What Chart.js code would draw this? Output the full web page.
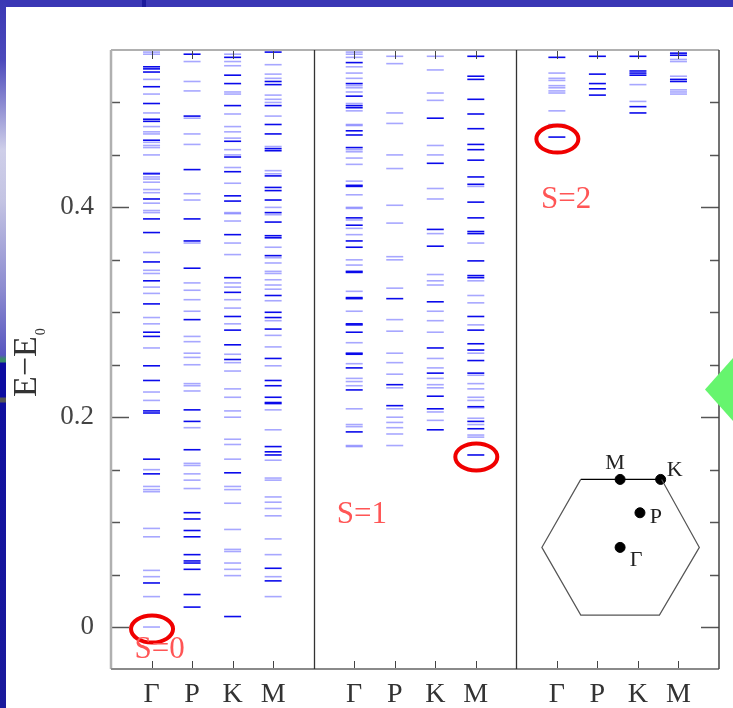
<!DOCTYPE html>
<html><head><meta charset="utf-8">
<script src="https://cdn.jsdelivr.net/npm/chart.js@4.4.1/dist/chart.umd.min.js"></script>
<style>
html,body{margin:0;padding:0;background:#fff;width:733px;height:708px;overflow:hidden;position:relative}
#wrap{position:absolute;left:0;top:0;width:733px;height:708px}
.deco{position:absolute;z-index:2}
</style></head><body>
<div id="wrap"><canvas id="c" width="733" height="708"></canvas></div>
<div class="deco" style="left:0;top:0;width:733px;height:7px;background:#3a37b5"></div>
<div class="deco" style="left:142px;top:0;width:4px;height:7px;background:#1c1a9c"></div>
<div class="deco" style="left:0;top:0;width:6px;height:708px;background:linear-gradient(to bottom,#3a38b4 0px,#4c4abb 60px,#cfcfe9 150px,#c4c4e3 200px,#8c8bd0 290px,#5856c0 355px,#3b8a6b 359px,#3b8a6b 362px,#0c0ca0 363px,#0c0ca0 397px,#555 398px,#555 402px,#10109e 403px,#1a1a9c 708px)"></div>
<div class="deco" style="left:705px;top:358px;width:28px;height:63px;background:#66f56e;clip-path:polygon(0 50%,100% 0,100% 100%)"></div>
<script>
// ---------- data ----------
const panels = ['S=0', 'S=1', 'S=2'];
const colLabels = ['Γ', 'P', 'K', 'M'];
const yLabelValues = [0, 0.2, 0.4];

// S = 0
const s0_G_dark  = [0.534,0.532,0.529,0.515,0.499,0.484,0.482,0.464,0.432,0.408,0.389,0.376,0.348,0.330,0.308,0.281,0.277,0.249,0.235,0.206,0.204,0.160,0.146,0.042];
const s0_G_light = [0.548,0.546,0.522,0.508,0.490,0.477,0.472,0.470,0.462,0.459,0.457,0.450,0.433,0.429,0.427,0.424,0.417,0.414,0.404,0.397,0.395,0.357,0.340,0.337,0.324,0.318,0.295,0.289,0.266,0.224,0.216,0.150,0.134,0.131,0.129,0.094,0.086,0.054,0.048,0.029,0.000];
const s0_P_dark  = [0.546,0.487,0.436,0.389,0.368,0.342,0.293,0.207,0.196,0.169,0.109,0.103,0.092,0.086,0.069,0.063,0.061,0.055,0.031,0.019];
const s0_P_light = [0.539,0.520,0.511,0.485,0.470,0.460,0.413,0.407,0.366,0.328,0.321,0.312,0.301,0.277,0.272,0.261,0.257,0.250,0.232,0.230,0.225,0.190,0.156,0.154,0.146,0.140,0.132];
const s0_K_dark  = [0.543,0.526,0.518,0.497,0.463,0.448,0.434,0.411,0.406,0.374,0.333,0.319,0.296,0.283,0.269,0.255,0.147,0.010];
const s0_K_light = [0.546,0.539,0.535,0.510,0.508,0.489,0.477,0.472,0.466,0.455,0.450,0.438,0.423,0.395,0.394,0.387,0.366,0.355,0.328,0.324,0.312,0.304,0.289,0.260,0.252,0.244,0.227,0.219,0.206,0.200,0.179,0.174,0.160,0.134,0.131,0.118,0.093,0.074,0.072,0.061,0.055,0.049];
const s0_M_dark  = [0.548,0.520,0.517,0.497,0.479,0.470,0.456,0.454,0.430,0.419,0.416,0.407,0.395,0.386,0.373,0.371,0.354,0.316,0.300,0.295,0.284,0.256,0.235,0.230,0.219,0.214,0.213,0.172,0.167,0.164,0.056,0.044];
const s0_M_light = [0.536,0.527,0.523,0.507,0.503,0.500,0.487,0.458,0.435,0.432,0.400,0.393,0.362,0.352,0.347,0.339,0.337,0.331,0.326,0.322,0.311,0.292,0.278,0.267,0.249,0.207,0.188,0.159,0.142,0.140,0.124,0.119,0.113,0.106,0.084,0.069,0.048,0.029];
// S = 1
const s1_G_dark  = [0.538,0.518,0.506,0.497,0.495,0.473,0.469,0.457,0.421,0.420,0.390,0.383,0.368,0.362,0.339,0.338,0.314,0.313,0.289,0.288,0.281,0.261,0.260,0.247,0.226,0.186];
const s1_G_light = [0.548,0.546,0.543,0.534,0.528,0.523,0.516,0.514,0.510,0.499,0.492,0.479,0.478,0.455,0.453,0.447,0.441,0.425,0.412,0.400,0.399,0.388,0.380,0.374,0.350,0.345,0.320,0.301,0.271,0.251,0.237,0.234,0.230,0.208,0.193,0.191,0.173,0.172];
const s1_P_dark  = [0.313,0.231,0.211];
const s1_P_light = [0.544,0.537,0.490,0.480,0.450,0.437,0.402,0.385,0.353,0.350,0.323,0.293,0.282,0.261,0.252,0.241,0.228,0.208,0.200,0.195,0.190,0.184,0.173];
const s1_K_dark  = [0.485,0.442,0.379,0.363,0.310,0.266,0.242,0.220,0.208,0.188];
const s1_K_light = [0.544,0.531,0.509,0.502,0.459,0.450,0.418,0.408,0.375,0.336,0.330,0.326,0.301,0.292,0.281,0.256,0.247,0.237,0.231,0.228,0.205,0.197];
const s1_M_dark  = [0.544,0.525,0.522,0.503,0.489,0.475,0.460,0.455,0.445,0.429,0.422,0.405,0.390,0.377,0.375,0.349,0.335,0.333,0.296,0.283,0.270,0.264,0.254,0.242,0.210,0.196,0.189,0.164];
const s1_M_light = [0.420,0.366,0.330,0.316,0.309,0.288,0.261,0.240,0.232,0.227,0.219,0.216,0.209,0.199,0.193,0.183,0.181];
// S = 2
const s2_G_dark  = [0.543,0.467];
const s2_G_light = [0.528,0.523,0.521,0.516,0.514,0.511,0.509,0.492,0.479];
const s2_P_dark  = [0.544,0.527,0.518,0.513,0.507];
const s2_P_light = [];
const s2_K_dark  = [0.544,0.530,0.528,0.526,0.496,0.490];
const s2_K_light = [0.517,0.501];
const s2_M_dark  = [0.547,0.545,0.522,0.520];
const s2_M_light = [0.541,0.539,0.525,0.512,0.510,0.508];

// circled lowest levels: [panel, column, value]
const highlighted = [[0, 0, 0.000], [1, 3, 0.164], [2, 0, 0.467]];

// Brillouin-zone inset (hexagon + labelled points), in data units
const bzHexX = [11.59, 13.585, 14.515, 13.53, 11.59, 10.63, 11.59];
const bzHexY = [0.1407, 0.1407, 0.0759, 0.0114, 0.0114, 0.0759, 0.1407];
const bzPointLabels = ['M', 'K', 'P', 'Γ'];
const bzPointX = [12.56, 13.56, 13.05, 12.56];
const bzPointY = [0.1407, 0.1407, 0.1089, 0.0759];

// ---------- styles ----------
const DARK = 'rgb(10,10,235)';
const LIGHT = 'rgba(60,60,255,0.45)';
const SERIF = '"Liberation Serif","DejaVu Serif",serif';
const panelLabelPos = [[1.2, -0.022], [6.19, 0.107], [11.23, 0.407]];
const bzLabelOffset = [[-5, -16], [14, -9], [16, 4], [16, 13]];

const levelSets = [
  [[s0_G_dark, s0_G_light], [s0_P_dark, s0_P_light], [s0_K_dark, s0_K_light], [s0_M_dark, s0_M_light]],
  [[s1_G_dark, s1_G_light], [s1_P_dark, s1_P_light], [s1_K_dark, s1_K_light], [s1_M_dark, s1_M_light]],
  [[s2_G_dark, s2_G_light], [s2_P_dark, s2_P_light], [s2_K_dark, s2_K_light], [s2_M_dark, s2_M_light]]
];
const PANEL_W = colLabels.length + 1;
const colX = (p, c) => p * PANEL_W + c + 1;
function points(shade) {
  const out = [];
  levelSets.forEach((cols, p) => cols.forEach((pair, c) => pair[shade].forEach(v => out.push({x: colX(p, c), y: v}))));
  return out;
}
const tickPositions = [];
panels.forEach((_, p) => colLabels.forEach((_, c) => tickPositions.push(colX(p, c))));

const framePlugin = {
  id: 'frame',
  afterDatasetsDraw(chart) {
    const {ctx, chartArea: a, scales: {x, y}} = chart;
    ctx.save();
    const line = (x1, y1, x2, y2, col, w) => {
      ctx.strokeStyle = col; ctx.lineWidth = w;
      ctx.beginPath(); ctx.moveTo(x1, y1); ctx.lineTo(x2, y2); ctx.stroke();
    };
    // y ticks (inward, both sides)
    y.ticks.forEach(t => {
      if (t.value <= y.min + 1e-9 || t.value >= y.max - 1e-9) return;
      const py = Math.round(y.getPixelForValue(t.value)) + 0.5;
      const len = t.label !== '' ? 18 : 9;
      line(a.left, py, a.left + len, py, '#555', 1.5);
      line(a.right, py, a.right - len, py, '#555', 1.5);
    });
    // x ticks (inward, top and bottom)
    x.ticks.forEach(t => {
      const px = Math.round(x.getPixelForValue(t.value)) + 0.5;
      line(px, a.bottom, px, a.bottom - 8, '#444', 1);
      line(px, a.top, px, a.top + 9, '#444', 1);
    });
    // frame
    line(a.left, a.top, a.right, a.top, '#b0b0b0', 2);
    line(a.left, a.top, a.left, a.bottom, '#b0b0b0', 2.5);
    line(a.left, a.bottom, a.right, a.bottom, '#8a8a8a', 2);
    line(a.right, a.top, a.right, a.bottom, '#444', 1.5);
    for (let p = 1; p < panels.length; p++) {
      const px = Math.round(x.getPixelForValue(p * PANEL_W)) + 0.5;
      line(px, a.top, px, a.bottom, '#333', 1.3);
    }
    // circled levels
    ctx.strokeStyle = '#f00000'; ctx.lineWidth = 4;
    highlighted.forEach(([p, c, v]) => {
      const cx = x.getPixelForValue(colX(p, c)) + 0.5;
      const cy = y.getPixelForValue(v) + 2;
      ctx.beginPath(); ctx.ellipse(cx, cy, 21, 13.5, 0, 0, Math.PI * 2); ctx.stroke();
    });
    // panel labels
    ctx.fillStyle = 'rgb(255,85,85)';
    ctx.font = '31px ' + SERIF;
    ctx.textAlign = 'center'; ctx.textBaseline = 'middle';
    panels.forEach((txt, p) => {
      ctx.fillText(txt, x.getPixelForValue(panelLabelPos[p][0]), y.getPixelForValue(panelLabelPos[p][1]));
    });
    // BZ labels
    ctx.fillStyle = '#222';
    ctx.font = '22px ' + SERIF;
    bzPointLabels.forEach((txt, i) => {
      ctx.fillText(txt, x.getPixelForValue(bzPointX[i]) + bzLabelOffset[i][0], y.getPixelForValue(bzPointY[i]) + bzLabelOffset[i][1]);
    });
    // y-axis title  E−E0
    ctx.translate(27, 397);
    ctx.rotate(-Math.PI / 2);
    ctx.fillStyle = '#333';
    ctx.textAlign = 'left'; ctx.textBaseline = 'alphabetic';
    ctx.font = '34px ' + SERIF;
    const main = 'E\u2212E';
    ctx.fillText(main, 0, 9);
    const w = ctx.measureText(main).width;
    ctx.font = '14px ' + SERIF;
    ctx.fillText('0', w + 1, 18);
    ctx.restore();
  }
};

new Chart(document.getElementById('c'), {
  type: 'scatter',
  data: {
    datasets: [
      {data: points(1), pointStyle: 'line', pointRadius: 8.5, borderWidth: 1.6, borderColor: LIGHT, backgroundColor: LIGHT},
      {data: points(0), pointStyle: 'line', pointRadius: 8.5, borderWidth: 1.6, borderColor: DARK, backgroundColor: DARK},
      {data: bzHexX.map((v, i) => ({x: v, y: bzHexY[i]})), showLine: true, pointRadius: 0, borderWidth: 1.2,
       borderColor: '#555', segment: {borderColor: c => c.p0DataIndex === 0 ? '#000' : '#555'}},
      {data: bzPointX.map((v, i) => ({x: v, y: bzPointY[i]})), pointRadius: 5, pointStyle: 'circle',
       backgroundColor: '#000', borderColor: '#000', borderWidth: 1}
    ]
  },
  options: {
    responsive: false,
    devicePixelRatio: 1,
    animation: false,
    events: [],
    layout: {padding: {left: 0, right: 14, top: 50, bottom: 0}},
    plugins: {legend: {display: false}, tooltip: {enabled: false}},
    scales: {
      x: {
        type: 'linear', min: 0, max: panels.length * PANEL_W,
        grid: {display: false}, border: {display: false},
        afterBuildTicks: s => { s.ticks = tickPositions.map(v => ({value: v})); },
        afterFit: s => { s.height = 39; },
        ticks: {
          autoSkip: false, maxRotation: 0, padding: 1, color: '#333',
          font: {family: SERIF, size: 28},
          callback: v => colLabels[Math.round(v) % PANEL_W - 1]
        }
      },
      y: {
        min: -0.04, max: 0.55,
        grid: {display: false}, border: {display: false},
        afterFit: s => { s.width = 111; },
        ticks: {
          stepSize: 0.05, autoSkip: false, padding: 9, color: '#444',
          font: {family: SERIF, size: 27},
          callback: v => { const r = Math.round(v * 100) / 100; return yLabelValues.includes(r) ? String(r) : ''; }
        }
      }
    }
  },
  plugins: [framePlugin]
});
</script>
</body></html>
